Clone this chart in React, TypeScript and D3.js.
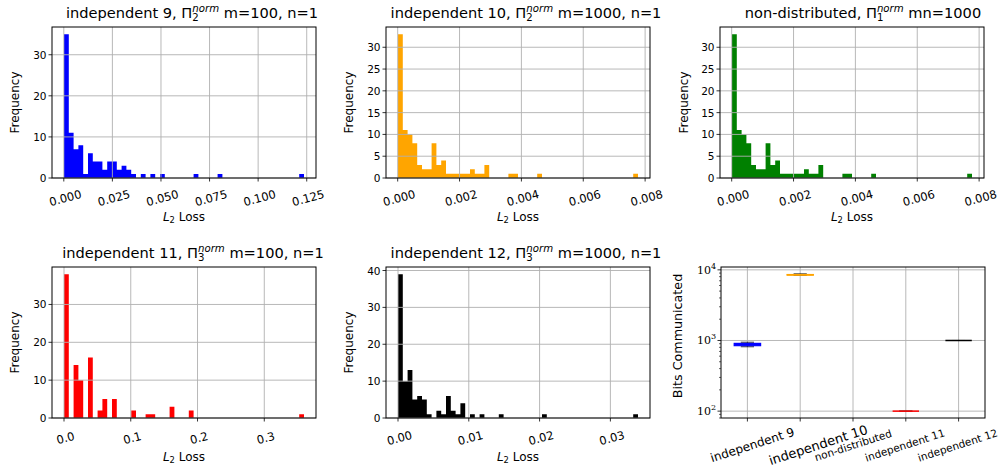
import React, { useEffect, useRef } from 'react';
import * as d3 from 'd3';

// histogram counts (50 bins each)
const countsIndep9 = [35, 11, 7, 8, 1, 6, 4, 4, 2, 4, 4, 2, 3, 2, 1, 0, 1, 0, 1, 0,
  1, 0, 0, 0, 0, 0, 0, 1, 0, 0, 0, 0, 1, 0, 0, 0, 0, 0, 0, 0,
  0, 0, 0, 0, 0, 0, 0, 0, 0, 1];
const countsIndep10 = [33, 11, 10, 8, 3, 2, 2, 8, 3, 4, 1, 1, 1, 1, 1, 2, 1, 1, 3, 0,
  0, 0, 0, 1, 1, 0, 0, 0, 0, 1, 0, 0, 0, 0, 0, 0, 0, 0, 0, 0,
  0, 0, 0, 0, 0, 0, 0, 0, 0, 1];
const countsNonDist = [33, 11, 10, 8, 3, 2, 2, 8, 3, 4, 1, 1, 1, 1, 1, 2, 1, 1, 3, 0,
  0, 0, 0, 1, 1, 0, 0, 0, 0, 1, 0, 0, 0, 0, 0, 0, 0, 0, 0, 0,
  0, 0, 0, 0, 0, 0, 0, 0, 0, 1];
const countsIndep11 = [38, 0, 14, 10, 0, 16, 0, 2, 5, 0, 5, 0, 0, 0, 2, 0, 0, 1, 1, 0,
  0, 0, 3, 0, 0, 0, 2, 0, 0, 0, 0, 0, 0, 0, 0, 0, 0, 0, 0, 0,
  0, 0, 0, 0, 0, 0, 0, 0, 0, 1];
const countsIndep12 = [39, 10, 13, 5, 6, 5, 1, 0, 2, 1, 6, 2, 1, 4, 0, 1, 0, 1, 0, 0,
  0, 1, 0, 0, 0, 0, 0, 0, 0, 0, 1, 0, 0, 0, 0, 0, 0, 0, 0, 0,
  0, 0, 0, 0, 0, 0, 0, 0, 0, 1];

// min / max of the binned losses
const rangeIndep9 = [0.0001, 0.1236];
const rangeIndep10 = [0.00001, 0.00777];
const rangeNonDist = [0.00001, 0.00777];
const rangeIndep11 = [0.0, 0.3595];
const rangeIndep12 = [0.0, 0.0339];

// x tick values
const ticksIndep9 = [0, 0.025, 0.05, 0.075, 0.1, 0.125];
const ticksIndep10 = [0, 0.002, 0.004, 0.006, 0.008];
const ticksIndep11 = [0, 0.1, 0.2, 0.3];
const ticksIndep12 = [0, 0.01, 0.02, 0.03];

// bits communicated boxplot: whisker low, q1, median, q3, whisker high
const boxLabels = ['independent 9', 'independent 10', 'non-distributed', 'independent 11', 'independent 12'];
const bitsIndep9 = [815, 845, 878, 910, 945];
const bitsIndep10 = [8350, 8420, 8500, 8580, 8770];
const bitsNonDist: number[] = [];
const bitsIndep11 = [100, 100, 100, 100, 100];
const bitsIndep12 = [1000, 1000, 1000, 1000, 1000];
const bitsTicks = [100, 1000, 10000];

const FONT = 'DejaVu Sans';
const AW = 264, AH = 151;
const GRID = '#b0b0b0';

function mathTitle(g, cx, y, pre, sub, post) {
  const t = g.append('text').attr('x', cx).attr('y', y)
    .attr('text-anchor', 'middle').attr('font-family', FONT).attr('font-size', 14.6).attr('fill', '#000');
  t.append('tspan').text(pre);
  t.append('tspan').attr('font-size', 10.2).attr('dy', 3.3).text(sub);
  t.append('tspan').attr('font-size', 10.2).attr('font-style', 'italic').attr('dx', -6.5).attr('dy', -9.2).text('norm');
  t.append('tspan').attr('dy', 5.9).text(post);
}

function xLossLabel(g, cx, y) {
  const t = g.append('text').attr('x', cx).attr('y', y)
    .attr('text-anchor', 'middle').attr('font-family', FONT).attr('font-size', 12);
  t.append('tspan').attr('font-style', 'italic').text('L');
  t.append('tspan').attr('font-size', 8.4).attr('dy', 2.5).text('2');
  t.append('tspan').attr('dy', -2.5).text(' Loss');
}

function yLabel(g, x, cy, text, size) {
  g.append('text').attr('transform', 'translate(' + x + ',' + cy + ') rotate(-90)')
    .attr('text-anchor', 'middle').attr('dominant-baseline', 'central')
    .attr('font-family', FONT).attr('font-size', size).text(text);
}

function drawHist(svg, p) {
  const lo = p.range[0], hi = p.range[1];
  const pad = (hi - lo) * 0.05;
  const x = d3.scaleLinear().domain([lo - pad, hi + pad]).range([p.left, p.left + AW]);
  const y = d3.scaleLinear().domain([0, d3.max(p.counts) * 1.05]).range([p.top + AH, p.top]);
  const step = (hi - lo) / p.counts.length;
  const steps = p.counts.map((c, i) => ({ x: lo + i * step, c }));
  steps.push({ x: hi, c: p.counts[p.counts.length - 1] });
  const g = svg.append('g');

  // contiguous bars as one stepped area, so neighbouring bins have no seams
  const area = d3.area().x(d => x(d.x)).y0(y(0)).y1(d => y(d.c)).curve(d3.curveStepAfter);
  g.append('path').datum(steps).attr('d', area).attr('fill', p.color);

  // grid sits above the bars, like matplotlib's default
  const yt = y.ticks(5);
  g.append('g').selectAll('line').data(p.ticks).join('line')
    .attr('x1', d => x(d)).attr('x2', d => x(d)).attr('y1', p.top).attr('y2', p.top + AH)
    .attr('stroke', GRID).attr('stroke-width', 0.9);
  g.append('g').selectAll('line').data(yt).join('line')
    .attr('y1', d => y(d)).attr('y2', d => y(d)).attr('x1', p.left).attr('x2', p.left + AW)
    .attr('stroke', GRID).attr('stroke-width', 0.9);

  // tick marks + labels
  const fmt = d3.format(p.fmt);
  g.append('g').selectAll('line').data(p.ticks).join('line')
    .attr('x1', d => x(d)).attr('x2', d => x(d)).attr('y1', p.top + AH).attr('y2', p.top + AH + 3.5)
    .attr('stroke', '#000').attr('stroke-width', 0.8);
  g.append('g').selectAll('text').data(p.ticks).join('text')
    .attr('transform', d => 'translate(' + (x(d) + 1.5) + ',' + (p.top + AH + 20) + ') rotate(-15)')
    .attr('text-anchor', 'middle').attr('dominant-baseline', 'central')
    .attr('font-family', FONT).attr('font-size', 11.5).text(d => fmt(d));
  g.append('g').selectAll('line').data(yt).join('line')
    .attr('y1', d => y(d)).attr('y2', d => y(d)).attr('x1', p.left - 3.5).attr('x2', p.left)
    .attr('stroke', '#000').attr('stroke-width', 0.8);
  g.append('g').selectAll('text').data(yt).join('text')
    .attr('x', p.left - 5.5).attr('y', d => y(d)).attr('text-anchor', 'end').attr('dominant-baseline', 'central')
    .attr('font-family', FONT).attr('font-size', 10.5).text(d => d);

  g.append('rect').attr('x', p.left).attr('y', p.top).attr('width', AW).attr('height', AH)
    .attr('fill', 'none').attr('stroke', '#000').attr('stroke-width', 1);

  mathTitle(g, p.left + AW / 2 + p.titleDx, p.top - 9, p.pre, p.sub, p.post);
  xLossLabel(g, p.left + AW / 2, p.top + AH + 42.5);
  yLabel(g, p.ylabX, p.top + AH / 2, 'Frequency', 12);
}

function drawBox(svg, left, top) {
  const series = [bitsIndep9, bitsIndep10, bitsNonDist, bitsIndep11, bitsIndep12];
  const colors = ['#0000ff', '#ffa500', '#008000', '#ff0000', '#000000'];
  const all = series.flat();
  const lmin = Math.log10(d3.min(all)), lmax = Math.log10(d3.max(all));
  const lpad = (lmax - lmin) * 0.05;
  const x = d3.scaleLinear().domain([0.5, 5.5]).range([left, left + AW]);
  const y = d3.scaleLog().domain([Math.pow(10, lmin - lpad), Math.pow(10, lmax + lpad)]).range([top + AH, top]);
  const g = svg.append('g');
  const pos = boxLabels.map((d, i) => i + 1);

  g.append('g').selectAll('line').data(pos).join('line')
    .attr('x1', d => x(d)).attr('x2', d => x(d)).attr('y1', top).attr('y2', top + AH)
    .attr('stroke', GRID).attr('stroke-width', 0.9);
  g.append('g').selectAll('line').data(bitsTicks).join('line')
    .attr('y1', d => y(d)).attr('y2', d => y(d)).attr('x1', left).attr('x2', left + AW)
    .attr('stroke', GRID).attr('stroke-width', 0.9);

  const bw = x(1.25) - x(1), cw = x(1.125) - x(1);
  series.forEach((s, i) => {
    if (!s.length) return;
    const cx = x(i + 1);
    const [w0, q1, med, q3, w1] = s;
    const bg = g.append('g');
    // whiskers and caps
    [[w0, q1], [q3, w1]].forEach(([a, b]) => {
      bg.append('line').attr('x1', cx).attr('x2', cx).attr('y1', y(a)).attr('y2', y(b))
        .attr('stroke', '#000').attr('stroke-width', 1);
    });
    [w0, w1].forEach(v => {
      bg.append('line').attr('x1', cx - cw).attr('x2', cx + cw).attr('y1', y(v)).attr('y2', y(v))
        .attr('stroke', '#333').attr('stroke-width', 1);
    });
    bg.append('rect').attr('x', cx - bw).attr('width', 2 * bw)
      .attr('y', y(q3)).attr('height', Math.max(0, y(q1) - y(q3)))
      .attr('fill', 'none').attr('stroke', colors[i]).attr('stroke-width', 1.2);
    bg.append('line').attr('x1', cx - bw).attr('x2', cx + bw).attr('y1', y(med)).attr('y2', y(med))
      .attr('stroke', colors[i]).attr('stroke-width', 1.5);
  });

  // log ticks
  const minor = [];
  [10, 100, 1000].forEach(dec => { for (let k = 2; k <= 9; k++) minor.push(dec * k); });
  const [d0, d1] = y.domain();
  g.append('g').selectAll('line').data(minor.filter(v => v >= d0 && v <= d1)).join('line')
    .attr('y1', d => y(d)).attr('y2', d => y(d)).attr('x1', left - 2).attr('x2', left)
    .attr('stroke', '#000').attr('stroke-width', 0.6);
  g.append('g').selectAll('line').data(bitsTicks).join('line')
    .attr('y1', d => y(d)).attr('y2', d => y(d)).attr('x1', left - 3.5).attr('x2', left)
    .attr('stroke', '#000').attr('stroke-width', 0.8);
  const lab = g.append('g').selectAll('text').data(bitsTicks).join('text')
    .attr('x', left - 5).attr('y', d => y(d) + 4).attr('text-anchor', 'end')
    .attr('font-family', 'DejaVu Serif').attr('font-size', 11);
  lab.append('tspan').text('10');
  lab.append('tspan').attr('font-size', 8).attr('dy', -5).text(d => Math.round(Math.log10(d)));

  g.append('g').selectAll('line').data(pos).join('line')
    .attr('x1', d => x(d)).attr('x2', d => x(d)).attr('y1', top + AH).attr('y2', top + AH + 3.5)
    .attr('stroke', '#000').attr('stroke-width', 0.8);
  // category labels, sizes as in the reference
  const labSize = [12, 13, 10.5, 10.5, 10.5];
  const labDx = [5, 18, 0, -1, -1];
  g.append('g').selectAll('text').data(boxLabels).join('text')
    .attr('transform', (d, i) => 'translate(' + (x(i + 1) + labDx[i]) + ',' + (top + AH + 27) + ') rotate(-18)')
    .attr('text-anchor', 'middle').attr('dominant-baseline', 'central')
    .attr('font-family', FONT).attr('font-size', (d, i) => labSize[i]).text(d => d);

  g.append('rect').attr('x', left).attr('y', top).attr('width', AW).attr('height', AH)
    .attr('fill', 'none').attr('stroke', '#000').attr('stroke-width', 1);
  yLabel(g, 677, 336, 'Bits Communicated', 12.7);
}

export default function App() {
  const ref = useRef(null);

  useEffect(() => {
    const svg = d3.select(ref.current);
    svg.selectAll('*').remove();
    svg.append('rect').attr('width', 1000).attr('height', 474).attr('fill', '#fff');

    drawHist(svg, { left: 52, top: 27, counts: countsIndep9, range: rangeIndep9, color: '#0000ff', ticks: ticksIndep9, fmt: '.3f',
      pre: 'independent 9, Π', sub: '2', post: ' m=100, n=1', ylabX: 15, titleDx: 8 });
    drawHist(svg, { left: 386, top: 27, counts: countsIndep10, range: rangeIndep10, color: '#ffa500', ticks: ticksIndep10, fmt: '.3f',
      pre: 'independent 10, Π', sub: '2', post: ' m=1000, n=1', ylabX: 349, titleDx: 8 });
    drawHist(svg, { left: 720, top: 27, counts: countsNonDist, range: rangeNonDist, color: '#008000', ticks: ticksIndep10, fmt: '.3f',
      pre: 'non-distributed, Π', sub: '1', post: ' mn=1000', ylabX: 684, titleDx: 11 });
    drawHist(svg, { left: 52, top: 267, counts: countsIndep11, range: rangeIndep11, color: '#ff0000', ticks: ticksIndep11, fmt: '.1f',
      pre: 'independent 11, Π', sub: '3', post: ' m=100, n=1', ylabX: 15, titleDx: 9 });
    drawHist(svg, { left: 386, top: 267, counts: countsIndep12, range: rangeIndep12, color: '#000000', ticks: ticksIndep12, fmt: '.2f',
      pre: 'independent 12, Π', sub: '3', post: ' m=1000, n=1', ylabX: 349, titleDx: 8 });
    drawBox(svg, 721, 267);
  }, []);

  return (
    <svg ref={ref} width={1000} height={474} style={{ position: 'absolute', left: 0, top: 0 }}></svg>
  );
}
